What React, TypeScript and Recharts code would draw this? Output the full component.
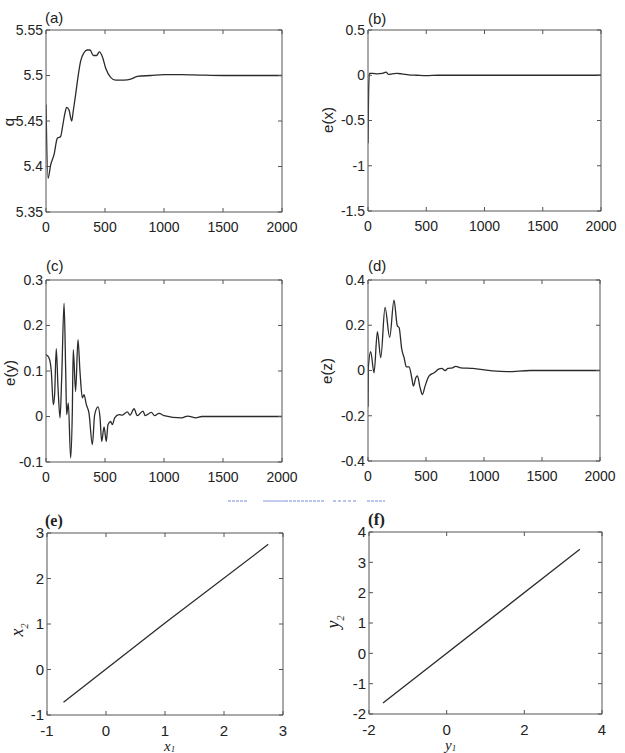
import { LineChart, Line, XAxis, YAxis } from "recharts";

// (a) q(t)
const tA = [0, 17, 40, 68, 96, 124, 138, 158, 175, 195, 218, 231, 251, 274, 294, 322, 350, 373, 401, 429, 452, 477, 506, 548, 590, 661, 718, 774, 887, 1000, 1150, 1300, 1500, 2000];
const qA = [5.468, 5.387, 5.402, 5.413, 5.431, 5.433, 5.442, 5.457, 5.465, 5.462, 5.45, 5.461, 5.479, 5.501, 5.516, 5.525, 5.528, 5.528, 5.522, 5.522, 5.526, 5.521, 5.508, 5.498, 5.495, 5.495, 5.496, 5.499, 5.5, 5.501, 5.501, 5.5005, 5.5, 5.5];

// (b) e(x)
const tB = [0, 5, 12, 40, 80, 120, 155, 175, 210, 250, 290, 350, 420, 500, 600, 2000];
const eX = [-0.75, -0.2, 0.02, 0.02, 0.015, 0.02, 0.035, 0.01, 0.015, 0.02, 0.015, 0.005, 0, -0.005, 0, 0];

// (c) e(y)
const tC = [0, 25, 45, 62, 73, 87, 102, 119, 133, 153, 167, 175, 189, 209, 223, 231, 251, 271, 288, 308, 322, 342, 364, 393, 412, 441, 458, 472, 492, 511, 525, 548, 562, 582, 619, 647, 689, 712, 746, 774, 822, 840, 893, 920, 958, 1000, 1150, 1200, 1270, 1320, 2000];
const eY = [0.136, 0.129, 0.099, 0.026, 0.048, 0.149, 0.063, -0.003, 0.085, 0.249, 0.099, 0.004, 0.03, -0.091, 0.011, 0.147, 0.055, 0.169, 0.099, 0.041, 0.048, 0.026, 0.008, -0.062, 0.003, 0.021, -0.003, -0.055, -0.023, -0.055, -0.018, -0.011, -0.018, -0.003, 0.004, 0.003, 0.01, 0.003, 0.017, 0.002, 0.012, 0.002, 0.009, 0.002, 0.007, 0.002, -0.003, 0.001, -0.003, 0, 0];

// (d) e(z)
const tD = [0, 3, 23, 52, 81, 110, 147, 187, 224, 253, 268, 291, 311, 331, 354, 377, 392, 412, 426, 449, 469, 492, 527, 570, 613, 636, 665, 688, 728, 757, 800, 901, 1074, 1200, 1400, 2000];
const eZ = [-0.16, 0.012, 0.083, -0.01, 0.172, 0.057, 0.279, 0.146, 0.311, 0.197, 0.19, 0.094, 0.057, 0.016, 0.016, -0.032, -0.069, -0.032, -0.024, -0.076, -0.106, -0.069, -0.024, -0.01, 0.007, 0.009, 0, 0.009, 0.012, 0.018, 0.012, 0.009, -0.002, -0.005, 0, 0];

// (e) x1 vs x2, (f) y1 vs y2
const x1 = [-0.72, 1.0, 2.75];
const x2 = [-0.72, 1.02, 2.75];
const y1 = [-1.64, 3.43];
const y2 = [-1.64, 3.43];

const timeTicks = [0, 500, 1000, 1500, 2000];

const zip = (xs: number[], ys: number[]) => xs.map((x, i) => ({ x, y: ys[i] }));

const INK = "#222";
const FRAME = "#555";
const SANS = "'Liberation Sans', Arial, sans-serif";
const SERIF = "'Liberation Serif', 'Times New Roman', serif";

type PanelProps = {
  box: [number, number, number, number];
  data: { x: number; y: number }[];
  xDomain: [number, number];
  xTicks: number[];
  yDomain: [number, number];
  yTicks: number[];
  fontSize?: number;
};

function Panel({ box, data, xDomain, xTicks, yDomain, yTicks, fontSize = 14 }: PanelProps) {
  const [bx0, by0, bx1, by1] = box;
  const AXW = 46;
  const AXH = 30;
  const TOP = 10;
  const RIGHT = 22;
  const width = bx1 - bx0 + AXW + 1 + RIGHT;
  const height = by1 - by0 + TOP + 1 + AXH;
  const tickStyle = { fill: INK, fontSize, fontFamily: SANS };
  return (
    <div style={{ position: "absolute", left: bx0 - AXW, top: by0 - TOP - 1 }}>
      <LineChart width={width} height={height} data={data} margin={{ top: TOP, right: RIGHT, left: 0, bottom: 0 }}>
        <XAxis
          xAxisId="b"
          dataKey="x"
          type="number"
          domain={xDomain}
          ticks={xTicks}
          interval={0}
          allowDataOverflow
          height={AXH}
          tickSize={-4}
          tickMargin={14}
          stroke={FRAME}
          tick={tickStyle}
        />
        <XAxis
          xAxisId="t"
          orientation="top"
          dataKey="x"
          type="number"
          domain={xDomain}
          ticks={xTicks}
          interval={0}
          allowDataOverflow
          height={1}
          tickSize={-4}
          stroke={FRAME}
          tickFormatter={() => ""}
        />
        <YAxis
          yAxisId="l"
          type="number"
          domain={yDomain}
          ticks={yTicks}
          interval={0}
          allowDataOverflow
          width={AXW}
          tickSize={-4}
          tickMargin={7}
          stroke={FRAME}
          tick={tickStyle}
        />
        <YAxis
          yAxisId="r"
          orientation="right"
          type="number"
          domain={yDomain}
          ticks={yTicks}
          interval={0}
          allowDataOverflow
          width={1}
          tickSize={-4}
          stroke={FRAME}
          tickFormatter={() => ""}
        />
        <Line
          xAxisId="b"
          yAxisId="l"
          dataKey="y"
          type="monotone"
          stroke="#2b2b2b"
          strokeWidth={1.3}
          dot={false}
          isAnimationActive={false}
        />
      </LineChart>
    </div>
  );
}

function Rot({ x, y, children, font = SANS, size = 15, italic = false }: any) {
  return (
    <div
      style={{
        position: "absolute",
        left: x,
        top: y,
        transform: "translate(-50%, -50%) rotate(-90deg)",
        fontFamily: font,
        fontSize: size,
        fontStyle: italic ? "italic" : "normal",
        lineHeight: 1,
        whiteSpace: "nowrap",
        color: INK,
      }}
    >
      {children}
    </div>
  );
}

function Tag({ x, y, children, bold = false, font = SANS, size = 15, italic = false }: any) {
  return (
    <div
      style={{
        position: "absolute",
        left: x,
        top: y,
        fontFamily: font,
        fontSize: size,
        fontWeight: bold ? "bold" : "normal",
        fontStyle: italic ? "italic" : "normal",
        lineHeight: 1,
        whiteSpace: "nowrap",
        color: INK,
      }}
    >
      {children}
    </div>
  );
}

const subStyle = { fontSize: 9, verticalAlign: "-1px", lineHeight: 1 };

export default function App() {
  return (
    <div
      style={{
        position: "absolute",
        left: 0,
        top: 0,
        width: 625,
        height: 753,
        overflow: "hidden",
        background: "#fff",
        fontFamily: SANS,
      }}
    >
      <Panel box={[46, 30, 282, 212]} data={zip(tA, qA)} xDomain={[0, 2000]} xTicks={timeTicks} yDomain={[5.35, 5.55]} yTicks={[5.35, 5.4, 5.45, 5.5, 5.55]} />
      <Panel box={[368, 30, 601, 211]} data={zip(tB, eX)} xDomain={[0, 2000]} xTicks={timeTicks} yDomain={[-1.5, 0.5]} yTicks={[-1.5, -1, -0.5, 0, 0.5]} />
      <Panel box={[46, 280, 282, 462]} data={zip(tC, eY)} xDomain={[0, 2000]} xTicks={timeTicks} yDomain={[-0.1, 0.3]} yTicks={[-0.1, 0, 0.1, 0.2, 0.3]} />
      <Panel box={[368, 280, 600, 461]} data={zip(tD, eZ)} xDomain={[0, 2000]} xTicks={timeTicks} yDomain={[-0.4, 0.4]} yTicks={[-0.4, -0.2, 0, 0.2, 0.4]} />
      <Panel box={[47, 533, 283, 715]} data={zip(x1, x2)} xDomain={[-1, 3]} xTicks={[-1, 0, 1, 2, 3]} yDomain={[-1, 3]} yTicks={[-1, 0, 1, 2, 3]} fontSize={15} />
      <Panel box={[369, 532, 602, 714]} data={zip(y1, y2)} xDomain={[-2, 4]} xTicks={[-2, 0, 2, 4]} yDomain={[-2, 4]} yTicks={[-2, -1, 0, 1, 2, 3, 4]} fontSize={15} />

      <Tag x={45} y={10}>(a)</Tag>
      <Tag x={368} y={11}>(b)</Tag>
      <Tag x={46} y={258}>(c)</Tag>
      <Tag x={368} y={258}>(d)</Tag>
      <Tag x={45} y={513} bold font={SERIF} size={16}>(e)</Tag>
      <Tag x={368} y={511} bold font={SERIF} size={17}>(f)</Tag>

      <Rot x={8} y={122}>q</Rot>
      <Rot x={327} y={120}>e(x)</Rot>
      <Rot x={9} y={373}>e(y)</Rot>
      <Rot x={326} y={371}>e(z)</Rot>
      <Rot x={19} y={630} font={SERIF} size={18} italic>
        x<sub style={{ fontSize: 10 }}>2</sub>
      </Rot>
      <Rot x={335} y={622} font={SERIF} size={18} italic>
        y<sub style={{ fontSize: 10 }}>2</sub>
      </Rot>
      <Tag x={164} y={739} font={SERIF} size={15} italic>
        x<span style={subStyle}>1</span>
      </Tag>
      <Tag x={445} y={738} font={SERIF} size={15} italic>
        y<span style={subStyle}>1</span>
      </Tag>

      <svg width={625} height={753} style={{ position: "absolute", left: 0, top: 0, pointerEvents: "none" }}>
        <g stroke="#7f8fd6" strokeWidth={1.3} opacity={0.7}>
          <line x1={228} y1={501} x2={247} y2={501} strokeDasharray="3 1" />
          <line x1={263} y1={501} x2={285} y2={501} />
          <line x1={285} y1={501} x2={325} y2={501} strokeDasharray="3 1" />
          <line x1={333} y1={501} x2={357} y2={501} strokeDasharray="3 2" />
          <line x1={367} y1={501} x2={385} y2={501} strokeDasharray="3 1" />
        </g>
      </svg>
    </div>
  );
}
